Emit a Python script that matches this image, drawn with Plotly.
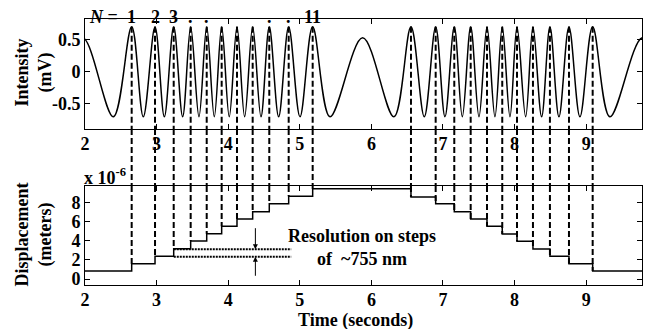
import plotly.graph_objects as go

# ---------------- data ----------------
# Intensity waveform extrema: time (s) and value (mV); first/last points lie just outside the view
wave_t = [1.535, 1.965, 2.395, 2.652, 2.814, 2.978, 3.108, 3.239, 3.364, 3.476, 3.592,
          3.700, 3.806, 3.909, 4.015, 4.123, 4.230, 4.342, 4.458, 4.574, 4.705,
          4.845, 5.003, 5.180, 5.422, 5.878, 6.315, 6.553, 6.739, 6.898, 7.028,
          7.158, 7.270, 7.387, 7.503, 7.615, 7.726, 7.828, 7.936, 8.034, 8.155,
          8.257, 8.378, 8.494, 8.620, 8.760, 8.913, 9.091, 9.332, 9.790, 10.230]
wave_v = [-0.70, 0.53, -0.70, 0.70, -0.70, 0.70, -0.70, 0.70, -0.70, 0.70, -0.70,
          0.70, -0.70, 0.70, -0.70, 0.70, -0.70, 0.70, -0.70, 0.70, -0.70,
          0.70, -0.70, 0.70, -0.70, 0.53, -0.70, 0.70, -0.70, 0.70, -0.70,
          0.70, -0.70, 0.70, -0.70, 0.70, -0.70, 0.70, -0.70, 0.70, -0.70,
          0.70, -0.70, 0.70, -0.70, 0.70, -0.70, 0.70, -0.70, 0.53, -0.70]

# Peak (fringe) times, where the displacement steps
peak_t = [2.652, 2.978, 3.239, 3.476, 3.700, 3.909, 4.123, 4.342, 4.574, 4.845, 5.180,
          6.553, 6.898, 7.158, 7.387, 7.615, 7.828, 8.034, 8.257, 8.494, 8.760, 9.091]
peak_v = [0.70] * 22

# Displacement levels (x 1e-6 m), one before each step and one after the last
levels = [0.83, 1.59, 2.36, 3.16, 3.96, 4.72, 5.49, 6.25, 7.01, 7.84, 8.61, 9.40,
          8.54, 7.84, 7.01, 6.25, 5.49, 4.69, 3.93, 3.13, 2.36, 1.59, 0.83]

# Fringe counter labels above the first peaks
n_label_t = [2.652, 2.978, 3.239, 3.476, 3.700, 4.574, 4.845, 5.180]
n_label_txt = ["1", "2", "3", ".", ".", ".", ".", "11"]

# Resolution marker lines and arrows
res_levels = [2.32, 3.09]
res_t = [3.24, 4.88]
arrow_t = 4.38
arrow_tails = [5.45, 0.18]

x_ticks = [2, 3, 4, 5, 6, 7, 8, 9]
y1_ticks = [-0.5, 0, 0.5]
y1_ticktext = ["-0.5", "0", "0.5"]
y2_ticks = [0, 2, 4, 6, 8]

x_range = [2, 9.78]
y1_range = [-0.89, 0.83]
y2_range = [-0.625, 9.69]

# ---------------- layout geometry ----------------
W, H = 645, 329
x_dom = [85 / W, 642 / W]
y1_dom = [1 - 129 / H, 1 - 18.5 / H]
y2_dom = [1 - 285 / H, 1 - 186 / H]

FONT = "Liberation Serif"

fig = go.Figure()
fig.add_trace(go.Scatter(
    x=wave_t, y=wave_v, mode="lines", xaxis="x", yaxis="y",
    line=dict(color="black", width=1.5, shape="spline", smoothing=1),
    showlegend=False, hoverinfo="skip"))

step_x = [x_range[0]] + peak_t + [x_range[1]]
step_y = levels + [levels[-1]]
fig.add_trace(go.Scatter(
    x=step_x, y=step_y, mode="lines", xaxis="x2", yaxis="y2",
    line=dict(color="black", width=1.5, shape="hv"),
    showlegend=False, hoverinfo="skip"))

shapes = []
dash = "6px,3px"
for i, t in enumerate(peak_t):
    shapes.append(dict(type="line", xref="x", yref="y", x0=t, x1=t,
                       y0=peak_v[i], y1=y1_range[0],
                       line=dict(color="black", width=2, dash=dash)))
    shapes.append(dict(type="line", xref="x", yref="paper", x0=t, x1=t,
                       y0=y1_dom[0], y1=y2_dom[1],
                       line=dict(color="black", width=2, dash=dash)))
    shapes.append(dict(type="line", xref="x2", yref="y2", x0=t, x1=t,
                       y0=y2_range[1], y1=levels[i + 1],
                       line=dict(color="black", width=2, dash=dash)))

for lv in res_levels:
    shapes.append(dict(type="line", xref="x2", yref="y2", x0=res_t[0], x1=res_t[1],
                       y0=lv, y1=lv, line=dict(color="black", width=2, dash="2px,1px")))

annotations = []
annotations.append(dict(x=arrow_t, y=res_levels[1], xref="x2", yref="y2",
                        ax=arrow_t, ay=arrow_tails[0], axref="x2", ayref="y2",
                        showarrow=True, arrowhead=2, arrowsize=1, arrowwidth=1,
                        arrowcolor="black", text=""))
annotations.append(dict(x=arrow_t, y=res_levels[0], xref="x2", yref="y2",
                        ax=arrow_t, ay=arrow_tails[1], axref="x2", ayref="y2",
                        showarrow=True, arrowhead=2, arrowsize=1, arrowwidth=1,
                        arrowcolor="black", text=""))
annotations.append(dict(x=5.87, y=3.3, xref="x2", yref="y2",
                        text="Resolution on steps<br>of  ~755 nm", showarrow=False,
                        xanchor="center", yanchor="middle", align="center",
                        font=dict(size=18)))

annotations.append(dict(x=103.5 / W, y=1 - 17 / H, xref="paper", yref="paper",
                        text="<i>N</i> =", showarrow=False,
                        xanchor="center", yanchor="middle", font=dict(size=18)))
for t, s in zip(n_label_t, n_label_txt):
    annotations.append(dict(x=t, y=1 - 16.5 / H, xref="x", yref="paper", text=s,
                            showarrow=False, xanchor="center", yanchor="middle",
                            font=dict(size=18)))

annotations.append(dict(x=33.5 / W, y=1 - 73 / H, xref="paper", yref="paper",
                        text="Intensity<br>(mV)", textangle=-90, showarrow=False,
                        xanchor="center", yanchor="middle", align="center",
                        font=dict(size=18)))
annotations.append(dict(x=33.5 / W, y=1 - 235 / H, xref="paper", yref="paper",
                        text="Displacement<br>(meters)", textangle=-90, showarrow=False,
                        xanchor="center", yanchor="middle", align="center",
                        font=dict(size=18)))
annotations.append(dict(x=355 / W, y=1 - 320 / H, xref="paper", yref="paper",
                        text="Time (seconds)", showarrow=False,
                        xanchor="center", yanchor="middle", font=dict(size=18)))
annotations.append(dict(x=82 / W, y=1 - 176 / H, xref="paper", yref="paper",
                        text="x 10<sup>-6</sup>", showarrow=False,
                        xanchor="left", yanchor="middle", font=dict(size=18)))

axis_common = dict(showline=True, linecolor="black", linewidth=1, mirror="ticks",
                   ticks="inside", ticklen=5, tickcolor="black", tickwidth=1,
                   showgrid=False, zeroline=False,
                   tickfont=dict(family=FONT, size=18, color="black", weight="bold"))

fig.update_layout(
    width=W, height=H,
    margin=dict(l=0, r=0, t=0, b=0, autoexpand=False),
    paper_bgcolor="white", plot_bgcolor="white",
    font=dict(family=FONT, size=18, color="black", weight="bold"),
    showlegend=False,
    xaxis=dict(domain=x_dom, range=x_range, anchor="y", tickvals=x_ticks,
               ticklabelstandoff=-2, **axis_common),
    yaxis=dict(domain=y1_dom, range=y1_range, anchor="x", tickvals=y1_ticks,
               ticktext=y1_ticktext, **axis_common),
    xaxis2=dict(domain=x_dom, range=x_range, anchor="y2", tickvals=x_ticks,
                ticklabelstandoff=-2, **axis_common),
    yaxis2=dict(domain=y2_dom, range=y2_range, anchor="x2", tickvals=y2_ticks, **axis_common),
    shapes=shapes,
    annotations=annotations,
)

fig.write_html("out.html")
